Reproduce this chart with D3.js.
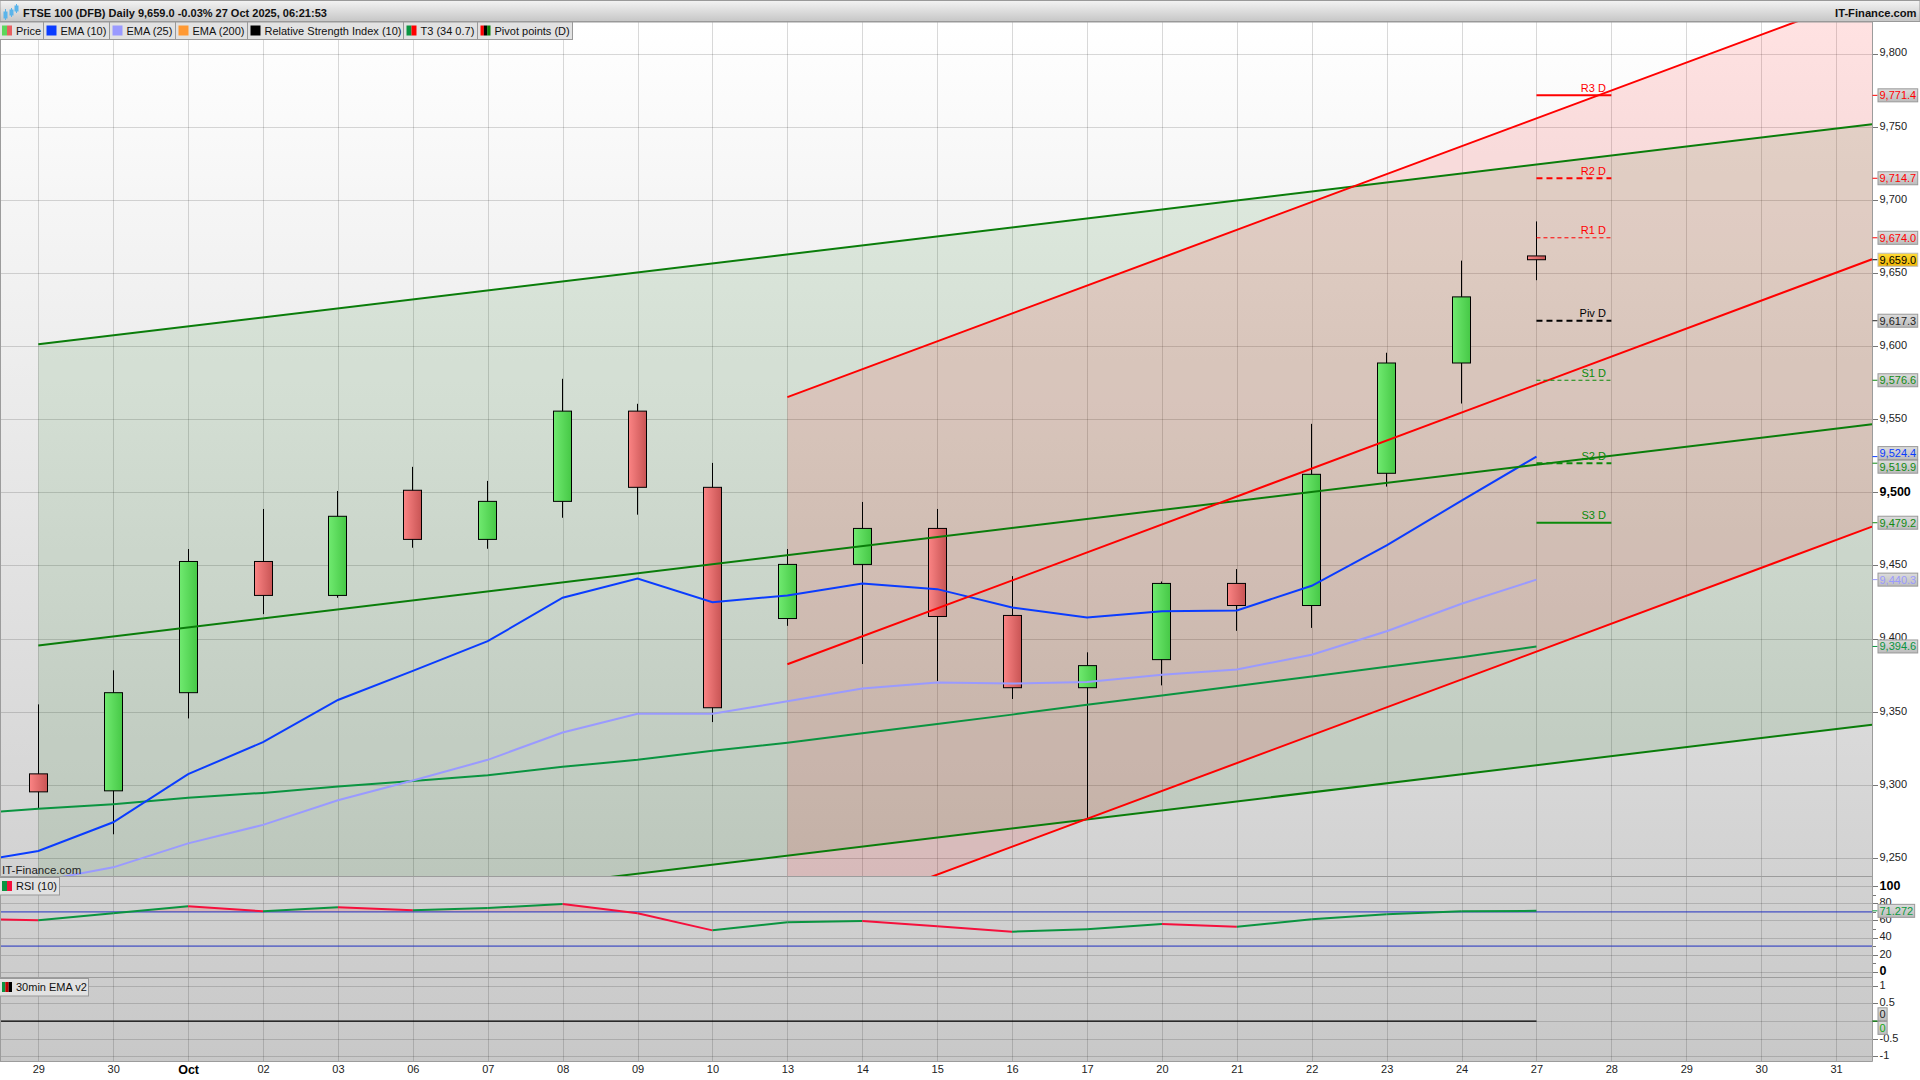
<!DOCTYPE html>
<html>
<head>
<meta charset="utf-8">
<title>FTSE 100 (DFB) Daily</title>
<script src="https://cdn.jsdelivr.net/npm/d3@7/dist/d3.min.js"></script>
<style>
	html, body { margin: 0; padding: 0; background: #fff; }
	svg { display: block; }
	text { font-family: "Liberation Sans", Arial, sans-serif; }
	.grid line { stroke: #000; stroke-opacity: 0.15; shape-rendering: crispEdges; }
	.grid path, .ticks path { display: none; }
	.ticks line { stroke: #777; shape-rendering: crispEdges; }
	.ticks text { fill: #222; font-size: 11px; }
</style>
</head>
<body>
<svg id="chart" width="1920" height="1080"></svg>
<script>
// Candles, one per trading day from 29 Sep to 27 Oct
var opens  = [9307.5, 9295.9, 9363.0, 9452.7, 9429.5, 9501.4, 9467.8, 9493.8, 9555.5, 9503.4, 9413.7, 9450.7, 9475.3, 9415.8, 9366.4, 9385.6, 9437.7, 9422.6, 9513.0, 9588.4, 9661.6];
var highs  = [9355.0, 9378.3, 9461.2, 9488.6, 9500.9, 9517.4, 9507.8, 9577.6, 9560.5, 9520.1, 9461.2, 9493.4, 9488.6, 9442.7, 9390.6, 9439.0, 9447.5, 9546.8, 9595.4, 9658.4, 9685.2];
var lows   = [9283.6, 9266.2, 9345.4, 9416.7, 9427.9, 9462.1, 9461.4, 9482.6, 9484.7, 9342.9, 9408.7, 9382.6, 9371.0, 9358.7, 9276.0, 9368.0, 9405.3, 9407.3, 9503.9, 9560.7, 9645.0];
var closes = [9295.2, 9363.0, 9452.7, 9429.5, 9483.6, 9467.8, 9493.8, 9555.5, 9503.4, 9352.7, 9450.7, 9475.3, 9415.1, 9366.4, 9381.5, 9437.7, 9422.6, 9512.3, 9588.4, 9633.6, 9659.0];

// Indicators start one day before the first candle, off the left edge
var ema10 = [9246, 9254.8, 9274.4, 9307.3, 9329.2, 9358, 9377.9, 9398.2, 9427.9, 9441.1, 9424.9, 9429.5, 9437.7, 9433.8, 9421.2, 9414.4, 9418.7, 9419.2, 9436.1, 9463.7, 9494.3, 9524.4];
var ema25 = [9222, 9234, 9243.6, 9260, 9272.6, 9289.5, 9303, 9317.1, 9335.8, 9348.6, 9348.6, 9357.1, 9365.8, 9369.9, 9369.2, 9370.3, 9375.3, 9378.8, 9389, 9405, 9423.8, 9440.3];
var t3 = [9280, 9283.6, 9286.8, 9291.1, 9294.5, 9298.9, 9302.7, 9306.6, 9312.3, 9317.1, 9323.3, 9328.8, 9335.2, 9341.6, 9348, 9354.8, 9361, 9367.6, 9374, 9380.8, 9387.2, 9394.6];
var rsi = [61, 60.2, 68.4, 76.5, 70.7, 75.4, 71.9, 74.6, 79.3, 68.4, 48.4, 57.8, 59.3, 53.1, 46.9, 49.6, 55.8, 52.7, 61.3, 67.2, 70.7, 71.272];
var ema30min = [0, 0];

// Drawn channels: day index at each end, then price at each end
var greenEnds = [0, 24.48];
var greenUpper = [9601.2, 9751.6];
var greenMiddle = [9395.2, 9546.5];
var greenLower = [9189.8, 9341.1];
var redEnds = [10, 24.48];
var redUpper = [9565.1, 9841.0];
var redMiddle = [9382.4, 9659.3];
var redLower = [9200.5, 9476.5];

// Pivot levels for the last day
var pivotNames = ["R3 D", "R2 D", "R1 D", "Piv D", "S1 D", "S2 D", "S3 D"];
var pivotValues = [9771.4, 9714.7, 9674.0, 9617.3, 9576.6, 9519.9, 9479.2];
var priceBoxValues = [9771.4, 9714.7, 9674.0, 9659.0, 9617.3, 9576.6, 9524.4, 9519.9, 9479.2, 9440.3, 9394.6];

// Axes
var dayLabels = ["29", "30", "Oct", "02", "03", "06", "07", "08", "09", "10", "13", "14", "15", "16", "17", "20", "21", "22", "23", "24", "27", "28", "29", "30", "31"];
var priceTicks = [9250, 9300, 9350, 9400, 9450, 9500, 9550, 9600, 9650, 9700, 9750, 9800];
var rsiTicks = [0, 20, 40, 60, 80, 100];
var rsiMinorTicks = [10, 30, 50, 70, 90];
var rsiLevels = [70, 30];
var emaTicks = [-1, -0.5, 0, 0.5, 1];

// Legend
var legendNames = ["Price", "EMA (10)", "EMA (25)", "EMA (200)", "Relative Strength Index (10)", "T3 (34 0.7)", "Pivot points (D)"];

var RED = "#ff0000", GREEN = "#0a7d0a", T3GREEN = "#0a9440", BLUE = "#0a3cff", LILAC = "#9a9aff";

function makeChart() {
	var left = 1, right = 1872.5, top = 22,
		mainBottom = 876.5, rsiBottom = 977.5, bottom = 1061.5;

	var x = d3.scaleLinear().domain([0, 24]).range([38.3, 1836.1]);
	var yPrice = d3.scaleLinear().domain([9500, 9800]).range([492.3, 53.5]);
	var yRsi = d3.scaleLinear().domain([0, 100]).range([971.7, 886.3]);
	var yEma = d3.scaleLinear().domain([-1, 1]).range([1056.4, 985.8]);

	var svg = d3.select("#chart");
	var defs = svg.append("defs");

	function gradient(id, x2, y2, stops) {
		var g = defs.append("linearGradient").attr("id", id)
			.attr("x1", 0).attr("y1", 0).attr("x2", x2).attr("y2", y2);
		stops.forEach(function(c, i) {
			g.append("stop").attr("offset", i / (stops.length - 1)).attr("stop-color", c);
		});
	}
	gradient("panelBg", 0, 1, ["#ffffff", "#c8c8c8"]);
	gradient("titleBg", 0, 1, ["#f3f3f3", "#c6c6c6"]);
	gradient("upBody", 1, 0, ["#70ea70", "#46c846"]);
	gradient("downBody", 1, 0, ["#fb8484", "#c85454"]);
	gradient("boxBg", 0, 1, ["#dcdcdc", "#bcbcbc"]);
	gradient("lastBg", 0, 1, ["#ffdc3a", "#f0b400"]);

	defs.append("clipPath").attr("id", "mainClip").append("rect")
		.attr("x", left).attr("y", top).attr("width", right - left).attr("height", mainBottom - top);
	defs.append("clipPath").attr("id", "overbought").append("rect")
		.attr("x", left).attr("y", yRsi(100)).attr("width", right - left).attr("height", yRsi(70) - yRsi(100));

	// Panel background
	svg.append("rect").attr("x", 0).attr("y", top).attr("width", right).attr("height", bottom - top)
		.attr("fill", "url(#panelBg)");

	// Horizontal grid for each panel, vertical grid through all of them
	function hGrid(scale, values) {
		svg.append("g").attr("class", "grid")
			.attr("transform", "translate(" + right + ",0)")
			.call(d3.axisLeft(scale).tickValues(values).tickSize(right).tickFormat(""));
	}
	hGrid(yPrice, priceTicks);
	hGrid(yRsi, rsiTicks);
	hGrid(yEma, emaTicks);

	var dayIndexes = d3.range(dayLabels.length);
	svg.append("g").attr("class", "grid")
		.attr("transform", "translate(0," + top + ")")
		.call(d3.axisBottom(x).tickValues(dayIndexes).tickSize(bottom - top).tickFormat(""));

	var main = svg.append("g").attr("clip-path", "url(#mainClip)");

	// Channel fills
	function channelFill(ends, upper, lower, color) {
		main.append("path")
			.datum(d3.range(ends.length))
			.attr("fill", color)
			.attr("d", d3.area()
				.x(function(i) { return x(ends[i]); })
				.y0(function(i) { return yPrice(lower[i]); })
				.y1(function(i) { return yPrice(upper[i]); }));
	}
	channelFill(greenEnds, greenUpper, greenLower, "rgba(0,110,0,0.1)");
	channelFill(redEnds, redUpper, redLower, "rgba(255,0,0,0.115)");

	// Candles
	var candles = main.selectAll(".candle")
		.data(d3.range(opens.length))
	  .enter().append("g")
		.attr("class", "candle");
	candles.append("line")
		.attr("x1", function(i) { return Math.floor(x(i)) + 0.5; })
		.attr("x2", function(i) { return Math.floor(x(i)) + 0.5; })
		.attr("y1", function(i) { return yPrice(highs[i]); })
		.attr("y2", function(i) { return yPrice(lows[i]); })
		.attr("stroke", "#000").attr("stroke-width", 1);
	candles.append("rect")
		.attr("x", function(i) { return Math.floor(x(i)) - 8.5; })
		.attr("width", 18)
		.attr("y", function(i) { return yPrice(Math.max(opens[i], closes[i])); })
		.attr("height", function(i) { return Math.abs(yPrice(opens[i]) - yPrice(closes[i])); })
		.attr("fill", function(i) { return closes[i] >= opens[i] ? "url(#upBody)" : "url(#downBody)"; })
		.attr("stroke", "#000").attr("stroke-width", 1);

	// Indicator lines, day index starts at -1
	var seriesLine = d3.line()
		.x(function(d, i) { return x(i - 1); })
		.y(function(d) { return yPrice(d); });
	function drawSeries(values, color) {
		main.append("path").datum(values).attr("fill", "none")
			.attr("stroke", color).attr("stroke-width", 2).attr("d", seriesLine);
	}
	drawSeries(t3, T3GREEN);
	drawSeries(ema25, LILAC);
	drawSeries(ema10, BLUE);

	// Channel lines
	function channelLine(ends, values, color) {
		main.append("line")
			.attr("x1", x(ends[0])).attr("x2", x(ends[1]))
			.attr("y1", yPrice(values[0])).attr("y2", yPrice(values[1]))
			.attr("stroke", color).attr("stroke-width", 2);
	}
	channelLine(greenEnds, greenUpper, GREEN);
	channelLine(greenEnds, greenMiddle, GREEN);
	channelLine(greenEnds, greenLower, GREEN);
	channelLine(redEnds, redUpper, RED);
	channelLine(redEnds, redMiddle, RED);
	channelLine(redEnds, redLower, RED);

	// Pivot levels between the last day and the next one
	var pivotColors = [RED, RED, RED, "#000", "#0a8a0a", "#0a8a0a", "#0a8a0a"];
	var pivotWidths = [2, 2, 1, 2, 1, 2, 2];
	var pivotDashes = [null, "6,4", "4,3", "6,4", "4,3", "6,4", null];
	pivotValues.forEach(function(v, i) {
		main.append("line")
			.attr("x1", x(20)).attr("x2", x(21))
			.attr("y1", yPrice(v)).attr("y2", yPrice(v))
			.attr("stroke", pivotColors[i]).attr("stroke-width", pivotWidths[i])
			.attr("stroke-dasharray", pivotDashes[i]);
		main.append("text")
			.attr("x", x(21) - 5.5).attr("y", yPrice(v) - 3.5)
			.attr("text-anchor", "end").attr("font-size", 11)
			.attr("fill", pivotColors[i])
			.text(pivotNames[i]);
	});

	// RSI panel
	svg.append("path").datum(rsi)
		.attr("clip-path", "url(#overbought)")
		.attr("fill", "rgba(255,0,0,0.12)")
		.attr("d", d3.area()
			.x(function(d, i) { return x(i - 1); })
			.y0(yRsi(70))
			.y1(function(d) { return yRsi(d); }));
	rsiLevels.forEach(function(v) {
		svg.append("line")
			.attr("x1", left).attr("x2", right)
			.attr("y1", yRsi(v)).attr("y2", yRsi(v))
			.attr("stroke", "#2030c0").attr("stroke-width", 1);
	});
	d3.pairs(rsi).forEach(function(pair, i) {
		svg.append("line")
			.attr("x1", Math.max(x(i - 1), left)).attr("x2", x(i))
			.attr("y1", yRsi(pair[0])).attr("y2", yRsi(pair[1]))
			.attr("stroke", pair[1] >= pair[0] ? T3GREEN : "#f5103c")
			.attr("stroke-width", 2);
	});

	// 30min EMA panel
	svg.append("line")
		.attr("x1", left).attr("x2", x(20))
		.attr("y1", yEma(ema30min[0])).attr("y2", yEma(ema30min[1]))
		.attr("stroke", "#000").attr("stroke-width", 1.2);

	// Panel borders
	[top, mainBottom, rsiBottom, bottom].forEach(function(y) {
		svg.append("line").attr("x1", 0).attr("x2", right).attr("y1", y).attr("y2", y)
			.attr("stroke", "#9c9c9c").attr("stroke-width", 1);
	});
	[0.5, right].forEach(function(px) {
		svg.append("line").attr("x1", px).attr("x2", px).attr("y1", top).attr("y2", bottom)
			.attr("stroke", "#9c9c9c").attr("stroke-width", 1);
	});

	// Right hand axes
	function rightAxis(scale, values, format, strong) {
		var g = svg.append("g").attr("class", "ticks")
			.attr("transform", "translate(" + right + ",0)")
			.call(d3.axisRight(scale).tickValues(values).tickSize(5).tickPadding(2).tickFormat(format));
		g.selectAll("text").attr("dy", "0.22em");
		g.selectAll("text")
			.filter(function(d) { return strong.indexOf(d) >= 0; })
			.attr("font-weight", "bold")
			.style("font-size", "12.5px")
			.style("fill", "#000");
	}
	rightAxis(yPrice, priceTicks, d3.format(","), [9500]);
	rightAxis(yRsi, rsiTicks, d3.format("d"), [0, 100]);
	rightAxis(yEma, emaTicks, String, []);
	svg.append("g").attr("class", "ticks")
		.attr("transform", "translate(" + right + ",0)")
		.call(d3.axisRight(yRsi).tickValues(rsiMinorTicks).tickSize(3).tickFormat(""));

	// Bottom axis
	var xAxis = svg.append("g").attr("class", "ticks")
		.attr("transform", "translate(0," + bottom + ")")
		.call(d3.axisBottom(x).tickValues(dayIndexes).tickSize(0).tickPadding(4)
			.tickFormat(function(i) { return dayLabels[i]; }));
	xAxis.selectAll("text")
		.filter(function(i) { return dayLabels[i] === "Oct"; })
		.attr("font-weight", "bold")
		.style("font-size", "12.5px")
		.style("fill", "#000");

	// Last value boxes on the right, pushed apart when they would overlap
	function valueBoxes(items, scale, format) {
		items.forEach(function(d) { d.y = scale(d.v); d.cy = d.y; });
		items.sort(function(a, b) { return a.y - b.y; });
		var gap = 13.6;
		for (var n = 0; n < 4; n++) {
			for (var i = 1; i < items.length; i++) {
				var overlap = gap - (items[i].cy - items[i - 1].cy);
				if (overlap > 0) {
					items[i - 1].cy -= overlap / 2;
					items[i].cy += overlap / 2;
				}
			}
		}
		items.forEach(function(d) {
			svg.append("line")
				.attr("x1", right).attr("x2", right + 5)
				.attr("y1", d.y).attr("y2", d.y)
				.attr("stroke", d.color).attr("stroke-width", 1);
			var g = svg.append("g");
			var box = g.append("rect")
				.attr("x", right + 5.5).attr("y", d.cy - 6.5).attr("height", 13)
				.attr("fill", d.last ? "url(#lastBg)" : "url(#boxBg)")
				.attr("stroke", d.last ? "#bbb" : "#999").attr("stroke-width", 1);
			var label = g.append("text")
				.attr("x", right + 7).attr("y", d.cy + 4)
				.attr("font-size", 11)
				.attr("fill", d.last ? "#000" : d.color)
				.text(format(d.v));
			box.attr("width", label.node().getComputedTextLength() + 3);
		});
	}
	var priceBoxColors = [RED, RED, RED, "#000", "#222", "#118a11", BLUE, "#118a11", "#118a11", LILAC, T3GREEN];
	valueBoxes(priceBoxValues.map(function(v, i) {
		return {v: v, color: priceBoxColors[i], last: v === closes[closes.length - 1]};
	}), yPrice, d3.format(",.1f"));
	valueBoxes([{v: rsi[rsi.length - 1], color: "#0a9a3c"}], yRsi, d3.format(".3f"));
	valueBoxes([{v: ema30min[1], color: "#222"}, {v: 0, color: "#12a812"}], yEma, d3.format("d"));

	// Title bar
	svg.append("rect").attr("x", 0).attr("y", 0.5).attr("width", 1920).attr("height", 21)
		.attr("fill", "url(#titleBg)").attr("stroke", "#999").attr("stroke-width", 1);
	var icon = svg.append("g").attr("stroke", "#5ab4ea").attr("fill", "#5ab4ea");
	[[5.5, 12, 18, 9, 20], [11.5, 10, 15, 8, 17], [16.5, 6, 11, 4, 13]].forEach(function(c) {
		icon.append("line").attr("x1", c[0]).attr("x2", c[0]).attr("y1", c[3]).attr("y2", c[4]);
		icon.append("rect").attr("x", c[0] - 1.5).attr("y", c[1]).attr("width", 3).attr("height", c[2] - c[1]);
	});
	svg.append("text").attr("x", 23).attr("y", 16.5)
		.attr("font-size", 11).attr("font-weight", "bold").attr("fill", "#111")
		.text("FTSE 100 (DFB) Daily 9,659.0 -0.03% 27 Oct 2025, 06:21:53");
	svg.append("text").attr("x", 1916.5).attr("y", 16.5).attr("text-anchor", "end")
		.attr("font-size", 11.2).attr("font-weight", "bold").attr("fill", "#111")
		.text("IT-Finance.com");

	// Legend boxes
	function legendBox(name, colors, x0, x1, y0, y1) {
		svg.append("rect").attr("x", x0 + 0.5).attr("y", y0 + 0.5)
			.attr("width", x1 - x0).attr("height", y1 - y0)
			.attr("fill", "#e2e2e2").attr("stroke", "#999").attr("stroke-width", 1);
		var w = 10 / colors.length;
		colors.forEach(function(c, i) {
			svg.append("rect").attr("x", x0 + 3.5 + i * w).attr("y", y0 + 4)
				.attr("width", w).attr("height", 10).attr("fill", c);
		});
		svg.append("text").attr("x", x0 + 17.5).attr("y", y0 + 13)
			.attr("font-size", 11).attr("fill", "#111")
			.text(name);
	}
	var legendEdges = [-1.5, 43, 109, 175, 247, 403, 477, 572];
	var legendColors = [
		["#5cd65c", "#e86060"], [BLUE], [LILAC], ["#ff9933"], ["#000"],
		[T3GREEN, RED], [RED, "#000", "#0a7d0a"]
	];
	legendNames.forEach(function(name, i) {
		legendBox(name, legendColors[i], legendEdges[i], legendEdges[i + 1], 21.5, 39);
	});
	legendBox("RSI (10)", [T3GREEN, "#f5103c"], -1.5, 59, 877, 894.5);
	legendBox("30min EMA v2", [T3GREEN, "#c00000", "#000"], -1.5, 88, 978, 995.5);

	// Watermark
	svg.append("text").attr("x", 2).attr("y", 874)
		.attr("font-size", 11.5).attr("fill", "#222")
		.text("IT-Finance.com");
}

makeChart();
</script>
</body>
</html>
